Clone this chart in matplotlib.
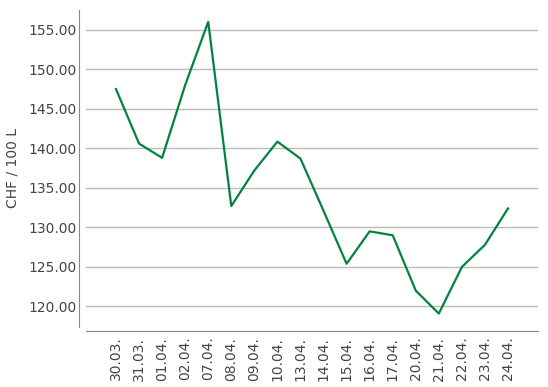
import matplotlib
matplotlib.use('Agg')
import matplotlib.pyplot as plt

dates = ['30.03.', '31.03.', '01.04.', '02.04.', '07.04.', '08.04.', '09.04.', '10.04.',
         '13.04.', '14.04.', '15.04.', '16.04.', '17.04.', '20.04.', '21.04.', '22.04.',
         '23.04.', '24.04.']
prices = [147.5, 140.6, 138.8, 148.0, 156.0, 132.7, 137.2, 140.85, 138.7, 132.1,
          125.4, 129.5, 129.0, 122.0, 119.1, 125.0, 127.8, 132.4]
yticks = [120, 125, 130, 135, 140, 145, 150, 155]

fig = plt.figure(figsize=(5.48, 3.87), dpi=100)
ax = fig.add_axes([86 / 548, 1 - 327 / 387, 452 / 548, 317 / 387])

x = list(range(len(dates)))
ax.plot(x, prices, color='#00843d', linewidth=1.6, zorder=3)

ax.set_xlim(-1.3, len(dates) - 1 + 1.3)
ax.set_ylim(117.4, 157.5)
ax.set_xticks(x)
ax.set_xticklabels(dates)
ax.set_yticks(yticks)
ax.set_yticklabels(['%.2f' % v for v in yticks])
ax.yaxis.grid(True, color='#bbbbbb', linewidth=1)
ax.set_axisbelow(True)

ax.tick_params(length=0, labelsize=10, colors='#444444')
ax.tick_params(axis='x', labelrotation=90, pad=4)
ax.tick_params(axis='y', pad=2)
ax.set_ylabel('CHF / 100 L', fontsize=10, color='#444444', labelpad=6)

for side in ['top', 'right']:
    ax.spines[side].set_visible(False)
ax.spines['left'].set_position(('outward', 5))
ax.spines['bottom'].set_position(('outward', 3))
for side in ['left', 'bottom']:
    ax.spines[side].set_color('#888888')

fig.savefig('out.png', dpi=100)
